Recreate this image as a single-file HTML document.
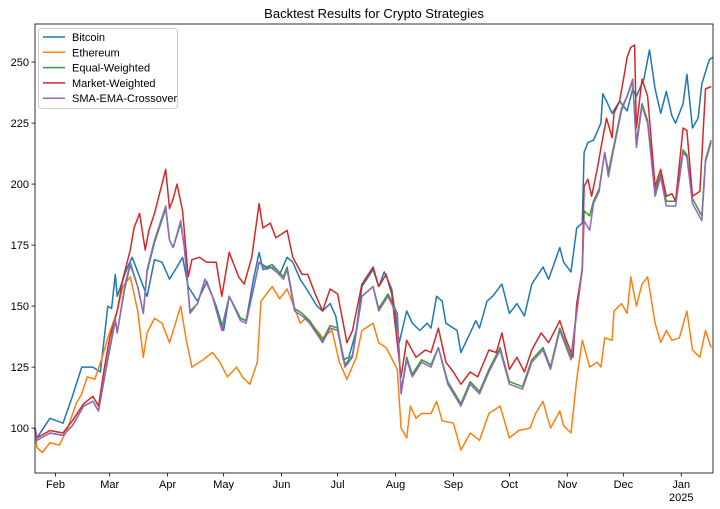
<!DOCTYPE html>
<html><head><meta charset="utf-8"><style>
body{margin:0;background:#fff;}
svg{display:block;font-family:"Liberation Sans",sans-serif;}
</style></head><body>
<svg id="chart" width="720" height="509" viewBox="0 0 720 509">
<rect width="720" height="509" fill="#fff"/>
<text x="374" y="18" text-anchor="middle" font-size="13" fill="#000">Backtest Results for Crypto Strategies</text>
<g id="lines"></g>
<g id="axes"></g>
<g id="legend"></g>
</svg>
<script>
const yTicks=[100,125,150,175,200,225,250];
const monthLabels=["Feb","Mar","Apr","May","Jun","Jul","Aug","Sep","Oct","Nov","Dec","Jan"];
const monthDays=[11,40,71,101,132,162,193,224,254,285,315,346];
const seriesNames=["Bitcoin","Ethereum","Equal-Weighted","Market-Weighted","SMA-EMA-Crossover"];
const btcDays=[0,1,8,15,20,25,31,35,39,41,43,44,49,52,56,60,64,68,72,76,79,82,87,92,97,101,104,110,113,117,120,122,126,131,135,138,142,147,151,154,158,161,165,168,172,175,181,184,187,191,195,199,202,206,210,212,215,218,220,226,228,233,236,238,242,245,250,254,258,262,266,272,275,281,283,287,290,293,294,296,299,303,304,306,309,313,317,320,322,326,329,332,335,338,341,343,347,349,352,355,357,361,363];
const btcVals=[100,96,104,102,113,125,125,123,150,149,163,154,165,170,162,154,169,168,161,166,170,158,152,160,150,140,154,145,144,161,172,165,166,163,170,168,161,155,150,148,151,146,128,129,140,158,165,158,164,157,135,148,143,140,143,141,154,152,143,140,131,139,144,141,152,154,159,147,151,146,159,166,161,174,168,164,182,184,213,217,218,225,237,234,229,234,230,239,236,243,255,239,229,238,228,225,233,245,223,227,241,251,252];
const ethDays=[0,1,4,8,13,17,22,25,28,32,36,39,44,47,51,55,58,60,64,68,72,78,81,84,90,95,99,103,108,111,115,119,121,126,127,131,135,138,142,145,151,154,159,163,167,172,175,181,184,188,194,196,199,201,204,207,212,215,218,224,228,233,238,243,249,254,259,265,268,272,276,281,283,287,290,293,297,301,303,305,309,310,314,317,319,322,325,328,332,335,338,341,345,349,352,356,359,362];
const ethVals=[100,92,90,94,93,99,110,114,121,120,129,137,148,158,162,148,129,139,145,143,135,150,136,125,128,131,127,121,125,121,118,127,152,157,158,153,157,151,143,145,140,137,140,127,120,129,140,143,135,133,124,100,96,109,104,106,106,111,103,102,91,98,95,106,109,96,99,100,106,111,100,107,101,98,120,136,125,127,125,137,136,148,151,147,162,150,159,162,143,135,140,136,137,148,132,129,140,133];
const mktDays=[0,1,8,15,20,26,31,34,37,40,44,47,51,53,56,59,61,64,67,70,72,74,76,79,82,84,88,92,97,100,104,109,112,116,120,122,126,129,135,138,143,146,150,154,158,162,167,170,175,181,184,188,191,196,199,204,209,212,216,220,224,228,233,237,243,247,250,254,258,262,266,271,275,281,284,288,290,293,294,296,298,301,304,306,309,310,313,316,317,319,321,322,325,328,332,335,338,341,343,347,349,352,356,359,362];
const mktVals=[100,96,99,98,103,110,113,109,124,137,148,161,173,182,188,173,181,188,197,206,190,194,200,189,162,169,170,168,168,154,172,162,159,170,192,182,184,178,181,170,163,163,155,148,157,155,135,140,159,166,158,163,155,121,136,129,132,131,141,127,123,118,123,121,132,131,139,124,129,123,132,139,135,144,137,129,151,165,199,202,195,206,219,227,219,229,234,247,252,256,257,223,243,236,199,206,195,196,193,223,222,195,197,239,240];
const smaDays=[0,1,8,15,20,26,31,34,39,43,44,48,51,55,58,60,64,67,70,72,74,78,80,83,87,91,95,100,104,110,113,117,120,124,127,133,135,139,143,147,154,158,162,166,170,175,181,184,189,194,196,199,202,207,212,216,221,228,233,238,243,249,254,261,266,272,276,281,287,290,293,294,297,299,302,305,307,310,314,317,320,322,325,328,332,335,338,343,347,349,352,357,359,362];
const smaVals=[100,95,98,97,101,109,111,107,129,145,139,158,168,158,147,165,177,184,191,177,174,185,174,147,151,161,154,140,154,144,143,157,168,165,166,161,165,148,146,143,135,141,140,125,129,154,158,148,154,146,114,128,121,127,125,133,118,109,118,114,123,132,118,116,127,132,124,140,128,147,165,185,181,192,197,213,203,215,230,236,243,215,232,225,195,203,191,191,213,211,192,185,209,217];
const eqDays=[0,1,8,15,20,26,31,34,39,43,44,48,51,55,58,60,64,67,70,72,74,78,80,83,87,91,95,100,104,110,113,117,120,124,127,133,135,139,143,147,154,158,162,166,170,175,181,184,189,194,196,199,202,207,212,216,221,228,233,238,243,249,254,261,266,272,276,281,287,290,293,294,297,299,302,305,307,310,314,317,320,322,325,328,332,335,338,343,347,349,352,357,359,362];
const eqVals=[100,95,98,97,101,109,111,107,128,144,139,157,167,158,147,164,176,183,190,177,174,184,174,148,151,161,154,141,154,145,144,157,168,166,167,162,166,149,147,144,136,142,141,126,130,154,158,149,155,147,115,129,122,128,126,133,119,110,119,115,124,133,119,117,128,133,125,141,129,148,166,189,187,193,198,213,205,216,231,236,242,217,233,226,197,204,193,193,214,212,194,187,210,218];

const X0=35,X1=713,Y0=473,Y1=24,D0=0,D1=363,V0=81.6,V1=265.6;
function xs(d){return X0+(d-D0)/(D1-D0)*(X1-X0);}
function ys(v){return Y0-(v-V0)/(V1-V0)*(Y0-Y1);}
const NS="http://www.w3.org/2000/svg";
function mk(tag,attrs,parent){const e=document.createElementNS(NS,tag);for(const k in attrs)e.setAttribute(k,attrs[k]);parent.appendChild(e);return e;}
const colors=["#1f77b4","#ff7f0e","#2ca02c","#d62728","#9467bd"];
const allDays=[btcDays,ethDays,eqDays,mktDays,smaDays];
const allVals=[btcVals,ethVals,eqVals,mktVals,smaVals];
const lines=document.getElementById('lines');
const lineNames=["bitcoin-line","ethereum-line","equal-weighted-line","market-weighted-line","sma-ema-crossover-line"];
for(let s=0;s<5;s++){
  const pts=allDays[s].map((d,i)=>xs(d).toFixed(1)+","+ys(allVals[s][i]).toFixed(1)).join(" ");
  const p=mk('polyline',{points:pts,fill:"none",stroke:colors[s],"stroke-width":1.5,"stroke-linejoin":"round"},lines);
  
  
}
const axes=document.getElementById('axes');
const frame=mk('rect',{x:X0,y:Y1,width:X1-X0,height:Y0-Y1,fill:"none",stroke:"#000","stroke-width":0.8},axes);


yTicks.forEach(v=>{
  const y=ys(v);
  const t=mk('line',{x1:X0-3.5,x2:X0,y1:y,y2:y,stroke:"#000","stroke-width":0.8},axes);
  
  
  const l=mk('text',{x:X0-6,y:y+4,"text-anchor":"end","font-size":11,fill:"#000"},axes);
  l.textContent=v;
  
  
});
monthDays.forEach((d,i)=>{
  const x=xs(d);
  const t=mk('line',{x1:x,x2:x,y1:Y0,y2:Y0+3.5,stroke:"#000","stroke-width":0.8},axes);
  
  
  const l=mk('text',{x:x,y:Y0+15,"text-anchor":"middle","font-size":11,fill:"#000"},axes);
  l.textContent=monthLabels[i];
  
  
});
const yr=mk('text',{x:xs(346),y:Y0+28,"text-anchor":"middle","font-size":11,fill:"#000"},axes);
yr.textContent="2025";


const lg=document.getElementById('legend');
const box=mk('rect',{x:38.5,y:28.5,width:139,height:80,rx:3,fill:"#fff","fill-opacity":0.85,stroke:"#ccc","stroke-width":1},lg);


seriesNames.forEach((n,i)=>{
  const y=37+i*15.3;
  const ln=mk('line',{x1:43,x2:65,y1:y,y2:y,stroke:colors[i],"stroke-width":1.5},lg);
  
  
  const tx=mk('text',{x:72,y:y+4,"font-size":11,fill:"#000"},lg);
  tx.textContent=n;
  
  
});
</script>
</body></html>
